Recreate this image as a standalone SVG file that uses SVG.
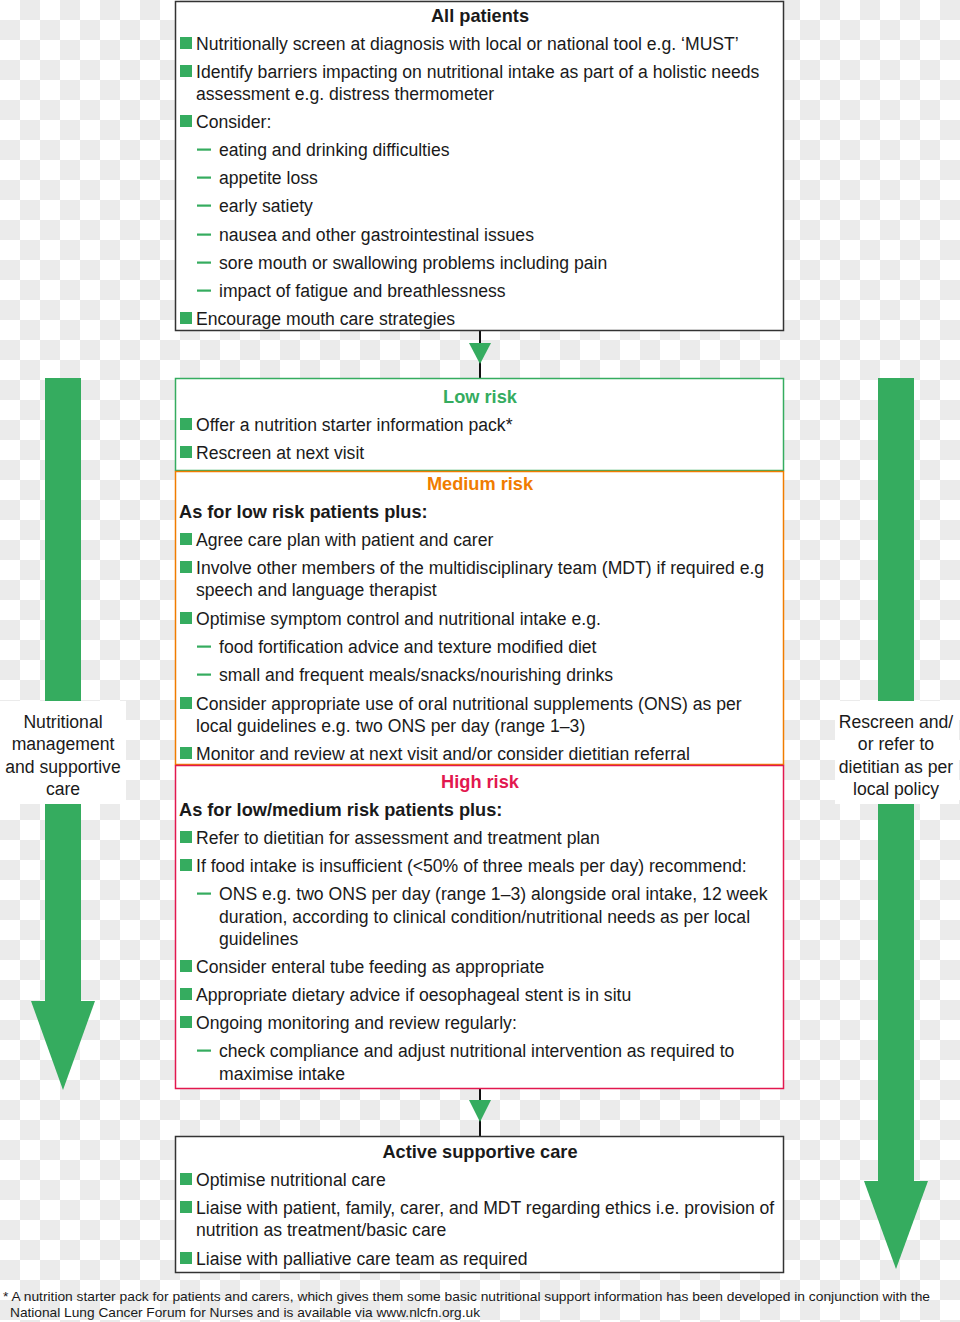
<svg xmlns="http://www.w3.org/2000/svg" width="960" height="1322" viewBox="0 0 960 1322">
<defs>
<pattern id="checker" width="40" height="40" patternUnits="userSpaceOnUse">
<rect width="40" height="40" fill="#ffffff"/>
<rect x="20" y="0" width="20" height="20" fill="#ebebeb"/>
<rect x="0" y="20" width="20" height="20" fill="#ebebeb"/>
</pattern>
<g id="sq"><rect x="0" y="-12" width="12" height="12" fill="#35ac5f"/></g>
<g id="dash"><rect x="0" y="-6.5" width="14" height="2.2" fill="#35ac5f"/></g>
</defs>
<style>
text{font-family:"Liberation Sans",Arial,Helvetica,sans-serif;font-size:17.6px;fill:#1a1a1a;transform:translateY(1px)}
.t{font-weight:bold;text-anchor:middle;font-size:18.2px}
.b{font-weight:bold;font-size:18.2px}
.box{fill:#ffffff;stroke-width:1.5}
.blk{stroke:#333333}
.grn{stroke:#35ac5f}
.org{stroke:#f07c00}
.red{stroke:#e2184f}
.side{text-anchor:middle}
.foot{font-size:13px}
.conn{stroke:#111111;stroke-width:2;fill:none}
.head{fill:#35ac5f}
</style>
<rect width="960" height="1322" fill="url(#checker)"/>

<g id="left-arrow">
<rect x="45" y="378" width="36" height="624" fill="#35ac5f"/>
<polygon points="31,1001 95,1001 63,1090" fill="#35ac5f"/>
<rect x="0" y="701" width="126" height="103" fill="#ffffff"/>
<text class="side" x="63" y="727">Nutritional</text>
<text class="side" x="63" y="749">management</text>
<text class="side" x="63" y="772">and supportive</text>
<text class="side" x="63" y="794">care</text>
</g>

<g id="right-arrow">
<rect x="878" y="378" width="36" height="804" fill="#35ac5f"/>
<polygon points="864,1181 928,1181 896,1269" fill="#35ac5f"/>
<rect x="835" y="701" width="124" height="103" fill="#ffffff"/>
<text class="side" x="896" y="727">Rescreen and/</text>
<text class="side" x="896" y="749">or refer to</text>
<text class="side" x="896" y="772">dietitian as per</text>
<text class="side" x="896" y="794">local policy</text>
</g>

<g id="connectors">
<line class="conn" x1="480" y1="331" x2="480" y2="378"/>
<polygon class="head" points="469,343 491,343 480,364"/>
<line class="conn" x1="480" y1="1088" x2="480" y2="1136"/>
<polygon class="head" points="469,1100 491,1100 480,1122"/>
</g>

<g id="all-patients">
<rect class="box blk" x="175.5" y="1.5" width="608" height="329"/>
<text class="t" x="480" y="21">All patients</text>
<use href="#sq" x="180" y="49"/><text x="196" y="49">Nutritionally screen at diagnosis with local or national tool e.g. ‘MUST’</text>
<use href="#sq" x="180" y="77"/><text x="196" y="77">Identify barriers impacting on nutritional intake as part of a holistic needs</text>
<text x="196" y="99">assessment e.g. distress thermometer</text>
<use href="#sq" x="180" y="127"/><text x="196" y="127">Consider:</text>
<use href="#dash" x="197" y="155"/><text x="219" y="155">eating and drinking difficulties</text>
<use href="#dash" x="197" y="183"/><text x="219" y="183">appetite loss</text>
<use href="#dash" x="197" y="211"/><text x="219" y="211">early satiety</text>
<use href="#dash" x="197" y="240"/><text x="219" y="240">nausea and other gastrointestinal issues</text>
<use href="#dash" x="197" y="268"/><text x="219" y="268">sore mouth or swallowing problems including pain</text>
<use href="#dash" x="197" y="296"/><text x="219" y="296">impact of fatigue and breathlessness</text>
<use href="#sq" x="180" y="324"/><text x="196" y="324">Encourage mouth care strategies</text>
</g>

<g id="low-risk">
<rect class="box grn" x="175.5" y="378.5" width="608" height="92"/>
<text class="t" x="480" y="402" style="fill:#35ac5f">Low risk</text>
<use href="#sq" x="180" y="430"/><text x="196" y="430">Offer a nutrition starter information pack*</text>
<use href="#sq" x="180" y="458"/><text x="196" y="458">Rescreen at next visit</text>
</g>

<g id="medium-risk">
<rect class="box org" x="175.5" y="471.5" width="608" height="293"/>
<text class="t" x="480" y="489" style="fill:#f07c00">Medium risk</text>
<text class="b" x="179" y="517">As for low risk patients plus:</text>
<use href="#sq" x="180" y="545"/><text x="196" y="545">Agree care plan with patient and carer</text>
<use href="#sq" x="180" y="573"/><text x="196" y="573">Involve other members of the multidisciplinary team (MDT) if required e.g</text>
<text x="196" y="595">speech and language therapist</text>
<use href="#sq" x="180" y="624"/><text x="196" y="624">Optimise symptom control and nutritional intake e.g.</text>
<use href="#dash" x="197" y="652"/><text x="219" y="652">food fortification advice and texture modified diet</text>
<use href="#dash" x="197" y="680"/><text x="219" y="680">small and frequent meals/snacks/nourishing drinks</text>
<use href="#sq" x="180" y="709"/><text x="196" y="709">Consider appropriate use of oral nutritional supplements (ONS) as per</text>
<text x="196" y="731">local guidelines e.g. two ONS per day (range 1–3)</text>
<use href="#sq" x="180" y="759"/><text x="196" y="759">Monitor and review at next visit and/or consider dietitian referral</text>
</g>

<g id="high-risk">
<rect class="box red" x="175.5" y="765.5" width="608" height="323"/>
<text class="t" x="480" y="787" style="fill:#e2184f">High risk</text>
<text class="b" x="179" y="815">As for low/medium risk patients plus:</text>
<use href="#sq" x="180" y="843"/><text x="196" y="843">Refer to dietitian for assessment and treatment plan</text>
<use href="#sq" x="180" y="871"/><text x="196" y="871">If food intake is insufficient (&lt;50% of three meals per day) recommend:</text>
<use href="#dash" x="197" y="899"/><text x="219" y="899">ONS e.g. two ONS per day (range 1–3) alongside oral intake, 12 week</text>
<text x="219" y="922">duration, according to clinical condition/nutritional needs as per local</text>
<text x="219" y="944">guidelines</text>
<use href="#sq" x="180" y="972"/><text x="196" y="972">Consider enteral tube feeding as appropriate</text>
<use href="#sq" x="180" y="1000"/><text x="196" y="1000">Appropriate dietary advice if oesophageal stent is in situ</text>
<use href="#sq" x="180" y="1028"/><text x="196" y="1028">Ongoing monitoring and review regularly:</text>
<use href="#dash" x="197" y="1056"/><text x="219" y="1056">check compliance and adjust nutritional intervention as required to</text>
<text x="219" y="1079">maximise intake</text>
</g>

<g id="active-supportive-care">
<rect class="box blk" x="175.5" y="1136.5" width="608" height="136"/>
<text class="t" x="480" y="1157">Active supportive care</text>
<use href="#sq" x="180" y="1185"/><text x="196" y="1185">Optimise nutritional care</text>
<use href="#sq" x="180" y="1213"/><text x="196" y="1213">Liaise with patient, family, carer, and MDT regarding ethics i.e. provision of</text>
<text x="196" y="1235">nutrition as treatment/basic care</text>
<use href="#sq" x="180" y="1264"/><text x="196" y="1264">Liaise with palliative care team as required</text>
</g>

<g id="footnote">
<text class="foot" x="3" y="1300" textLength="927" lengthAdjust="spacingAndGlyphs">* A nutrition starter pack for patients and carers, which gives them some basic nutritional support information has been developed in conjunction with the</text>
<text class="foot" x="10" y="1316" textLength="470" lengthAdjust="spacingAndGlyphs">National Lung Cancer Forum for Nurses and is available via www.nlcfn.org.uk</text>
</g>
</svg>
